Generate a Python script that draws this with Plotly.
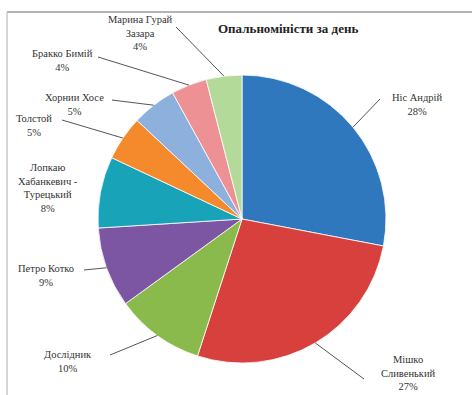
import math
import plotly.graph_objects as go

# ---- data ----
names = ["Ніс Андрій", "Мішко Сливенький", "Дослідник", "Петро Котко",
         "Лопкаю Хабанкевич - Турецький", "Толстой", "Хорнии Хосе",
         "Бракко Бимій", "Марина Гурай Зазара"]
label_lines = ["Ніс Андрій", "Мішко<br>Сливенький", "Дослідник", "Петро Котко",
               "Лопкаю<br>Хабанкевич -<br>Турецький", "Толстой", "Хорнии Хосе",
               "Бракко Бимій", "Марина Гурай<br>Зазара"]
values = [28, 27, 10, 9, 8, 5, 5, 4, 4]
colors = ["#2F78BE", "#D7403D", "#8BBA4C", "#7C56A2", "#19A3B9",
          "#F48A2B", "#8DB0DD", "#EE9195", "#B3DA99"]
title = "Опальноміністи за день"

# ---- layout (pixels) ----
W, H = 472, 395
cx, cy, R = 242, 219, 144
FONT = "Liberation Serif, Times New Roman, DejaVu Serif, serif"
# label text anchor (center) positions and leader-line start points
label_pos = [(417, 104), (408, 373), (68, 361), (46, 275), (48, 188),
             (34, 125), (74, 104), (62, 60), (140, 33)]
line_start = [(380, 99), (364, 379), (110, 355), (84, 270), None,
              (62, 120), (112, 100), (98, 57), (176, 27)]

fig = go.Figure(go.Pie(
    labels=names, values=values, sort=False, direction="clockwise", rotation=0,
    marker=dict(colors=colors, line=dict(color="white", width=0.8)),
    textinfo="none", hoverinfo="label+percent", showlegend=False,
    domain=dict(x=[(cx - R) / W, (cx + R) / W], y=[1 - (cy + R) / H, 1 - (cy - R) / H]),
))

total = sum(values)
cum = 0
shapes = []
annotations = []
for i, v in enumerate(values):
    mid = (cum + v / 2) / total * 2 * math.pi
    cum += v
    tx = cx + R * math.sin(mid)
    ty = cy - R * math.cos(mid)
    pct = round(v / total * 100)
    lx, ly = label_pos[i]
    annotations.append(dict(
        x=lx / W, y=1 - ly / H, xref="paper", yref="paper",
        text=f"{label_lines[i]}<br>{pct}%", showarrow=False,
        font=dict(family=FONT, size=10.5, color="#333333"),
        align="center", xanchor="center", yanchor="middle"))
    if line_start[i] is not None:
        sx, sy = line_start[i]
        shapes.append(dict(type="line", xref="paper", yref="paper",
                           x0=sx / W, y0=1 - sy / H, x1=tx / W, y1=1 - ty / H,
                           line=dict(color="#555555", width=1)))

annotations.append(dict(x=288 / W, y=1 - 29 / H, xref="paper", yref="paper",
                        text=f"<b>{title}</b>", showarrow=False,
                        font=dict(family=FONT, size=13, color="#222222"),
                        xanchor="center", yanchor="middle"))
# frame
shapes.append(dict(type="line", xref="paper", yref="paper", x0=7 / W, x1=1,
                   y0=1 - 12 / H, y1=1 - 12 / H, line=dict(color="#A09A94", width=1.5)))
shapes.append(dict(type="line", xref="paper", yref="paper", x0=7 / W, x1=7 / W,
                   y0=0, y1=1 - 12 / H, line=dict(color="#C8C8C8", width=1.5)))

fig.update_layout(width=W, height=H, margin=dict(l=0, r=0, t=0, b=0),
                  paper_bgcolor="white", plot_bgcolor="white",
                  shapes=shapes, annotations=annotations)
fig.write_html("out.html", config={"displayModeBar": False},
               post_script="document.body.style.margin='0';document.body.style.overflow='hidden';")
